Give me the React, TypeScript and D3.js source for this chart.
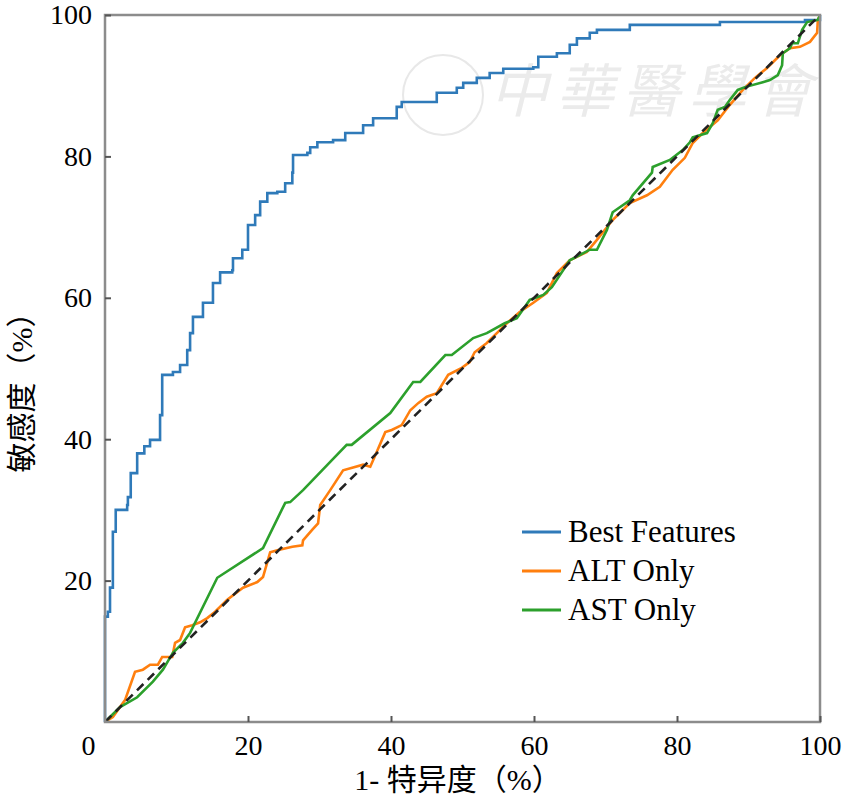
import * as React from "react";
import * as d3 from "d3";

// ROC points as [1 - specificity %, sensitivity %]
const bestFeatures: [number, number][] = [
  [0, 0], [0, 14.9], [0.4, 15.6], [0.7, 19.0], [1.1, 26.9], [1.5, 30.0],
  [3.1, 30.7], [3.2, 31.8], [3.6, 35.2], [4.5, 38.0], [5.5, 39.0], [6.3, 39.9],
  [7.7, 43.4], [8.0, 49.1], [9.5, 49.5], [10.5, 50.5], [11.5, 52.6], [11.9, 55.0],
  [12.3, 57.3], [13.7, 59.3], [15.1, 62.1], [16.1, 63.6], [17.8, 63.9], [17.9, 65.6],
  [19.2, 66.8], [20.0, 70.3], [21.0, 71.7], [21.7, 73.6], [22.7, 74.8], [24.1, 75.0],
  [25.2, 76.2], [26.2, 77.7], [26.3, 80.2], [28.3, 80.5], [28.7, 81.3], [29.7, 82.0],
  [31.9, 82.3], [33.6, 83.3], [36.1, 84.4], [37.5, 85.4], [40.1, 85.4], [40.8, 87.0],
  [41.5, 87.7], [43.1, 87.7], [46.4, 89.0], [49.2, 89.7], [50.1, 90.4], [52.0, 91.1],
  [53.8, 91.8], [55.7, 92.4], [59.9, 92.6], [60.6, 94.1], [63.2, 94.6], [65.0, 95.8],
  [66.0, 96.7], [67.8, 97.5], [68.8, 97.9], [73.4, 98.6], [86.0, 99.0], [97.9, 99.3],
  [100, 100],
];

const altOnly: [number, number][] = [
  [0, 0], [1.1, 0.7], [2.8, 3.1], [4.2, 7.1], [5.3, 7.4], [6.3, 8.1], [7.4, 8.1],
  [8.0, 9.2], [9.4, 9.2], [9.8, 11.2], [10.5, 11.6], [11.2, 13.4], [12.2, 13.7],
  [13.3, 14.1], [14.3, 14.7], [15.4, 15.6], [17.1, 17.3], [19.3, 19.0], [21.3, 19.8],
  [22.1, 20.5], [23.1, 24.0], [24.1, 24.3], [26.2, 24.8], [27.6, 25.0], [27.7, 25.7],
  [29.0, 27.2], [29.8, 28.1], [30.1, 30.7], [31.5, 32.8], [33.3, 35.6], [36.1, 36.4],
  [37.1, 36.1], [38.0, 38.2], [39.2, 41.0], [40.1, 41.3], [41.5, 42.0], [42.7, 44.1],
  [43.8, 45.1], [45.0, 46.0], [46.4, 46.5], [48.0, 49.1], [49.9, 50.1], [51.0, 50.9],
  [51.7, 52.3], [53.4, 53.6], [54.8, 55.0], [56.2, 56.4], [58.0, 58.0], [59.9, 59.3],
  [61.8, 60.7], [63.2, 63.5], [65.0, 65.3], [67.4, 66.5], [68.8, 68.2], [71.0, 71.0],
  [73.4, 73.4], [75.8, 74.5], [77.6, 75.7], [79.4, 78.1], [81.1, 79.8], [82.2, 81.9],
  [83.6, 83.3], [85.7, 85.1], [87.4, 87.3], [89.2, 89.4], [90.9, 91.1], [92.6, 92.5],
  [94.4, 94.3], [95.8, 95.3], [97.2, 95.5], [98.6, 96.2], [99.6, 97.5], [99.7, 99.3],
  [100, 100],
];

const astOnly: [number, number][] = [
  [0, 0], [2.1, 2.1], [4.5, 3.5], [6.7, 5.7], [8.1, 7.4], [9.5, 9.8], [10.9, 11.2],
  [11.9, 12.6], [15.7, 20.4], [22.1, 24.6], [25.2, 31.0], [25.9, 31.1], [27.7, 32.8],
  [31.5, 36.8], [33.8, 39.2], [34.5, 39.2], [39.9, 43.7], [43.1, 48.1], [44.1, 48.1],
  [47.6, 51.9], [48.5, 51.9], [51.5, 54.3], [53.4, 55.0], [55.9, 56.4], [57.6, 57.1],
  [59.4, 59.7], [61.3, 60.4], [62.5, 61.5], [65.0, 65.3], [67.8, 66.8], [68.8, 66.8],
  [70.2, 69.6], [71.0, 72.1], [73.4, 73.8], [73.8, 74.5], [76.5, 77.7], [76.6, 78.5],
  [79.0, 79.5], [80.8, 80.9], [81.8, 82.0], [82.2, 82.7], [84.2, 83.3], [85.0, 84.7],
  [85.7, 86.6], [86.7, 87.0], [87.4, 88.0], [88.5, 89.4], [89.5, 89.8], [92.0, 90.5],
  [93.0, 90.8], [94.1, 91.5], [94.7, 92.9], [94.8, 94.6], [95.8, 95.3], [96.1, 96.0],
  [96.9, 96.0], [97.5, 97.9], [98.2, 99.0], [99.7, 99.3], [100, 100],
];

const chanceLine: [number, number][] = [[0, 0], [100, 100]];

const seriesNames = ["Best Features", "ALT Only", "AST Only"];
const seriesColors = ["#2f7ab9", "#ff7f0e", "#2ca02c"];
const xTicks = [0, 20, 40, 60, 80, 100];
const yTicks = [20, 40, 60, 80, 100];
const xLabel = "1- 特异度（%）";
const yLabel = "敏感度（%）";

const serif = "'Liberation Serif', 'Times New Roman', serif";
const cjk = "'Liberation Serif', 'Noto Sans CJK SC', serif";

export default function App() {
  const ref = React.useRef<SVGSVGElement>(null);

  React.useEffect(() => {
    if (!ref.current) return;
    const svg = d3.select(ref.current);
    svg.selectAll("*").remove();

    const x = d3.scaleLinear().domain([0, 100]).range([105, 820]);
    const y = d3.scaleLinear().domain([0, 100]).range([722, 15]);

    // faint watermark
    svg
      .append("text")
      .attr("x", 655)
      .attr("y", 112)
      .attr("text-anchor", "middle")
      .style("font-family", "'Noto Sans CJK TC', sans-serif")
      .style("font-size", "58px")
      .style("font-style", "italic")
      .attr("fill", "#ebebeb")
      .attr("letter-spacing", 8)
      .text("中華醫學會");
    svg
      .append("circle")
      .attr("cx", 443)
      .attr("cy", 95)
      .attr("r", 40)
      .attr("fill", "none")
      .attr("stroke", "#e8e8e8")
      .attr("stroke-width", 2);

    const lineStep = d3
      .line<[number, number]>()
      .x(d => x(d[0]))
      .y(d => y(d[1]))
      .curve(d3.curveStepAfter);
    const lineLin = d3
      .line<[number, number]>()
      .x(d => x(d[0]))
      .y(d => y(d[1]));

    const plot = svg.append("g").attr("fill", "none").attr("stroke-width", 2.6);
    plot.append("path").attr("d", lineStep(bestFeatures)).attr("stroke", seriesColors[0]);
    plot.append("path").attr("d", lineLin(altOnly)).attr("stroke", seriesColors[1]);
    plot.append("path").attr("d", lineLin(astOnly)).attr("stroke", seriesColors[2]);
    plot
      .append("path")
      .attr("d", lineLin(chanceLine))
      .attr("stroke", "#222")
      .attr("stroke-dasharray", "9,6");

    // frame
    svg
      .append("rect")
      .attr("x", x(0))
      .attr("y", y(100))
      .attr("width", x(100) - x(0))
      .attr("height", y(0) - y(100))
      .attr("fill", "none")
      .attr("stroke", "#8c8c8c")
      .attr("stroke-width", 2.5);

    const xAxis = svg
      .append("g")
      .attr("transform", `translate(0,${y(0)})`)
      .call(d3.axisBottom(x).tickValues(xTicks).tickSize(-6).tickPadding(13).tickFormat(d3.format("d")));
    const yAxis = svg
      .append("g")
      .attr("transform", `translate(${x(0)},0)`)
      .call(d3.axisLeft(y).tickValues(yTicks).tickSize(-6).tickPadding(13).tickFormat(d3.format("d")));

    [xAxis, yAxis].forEach(a => {
      a.select(".domain").remove();
      a.selectAll("line").attr("stroke", "#555").attr("stroke-width", 2);
      a.selectAll("text")
        .attr("fill", "#000")
        .style("font-family", serif)
        .style("font-size", "28px");
    });
    const zeroTick = xAxis.selectAll<SVGGElement, number>(".tick").filter(d => d === 0);
    zeroTick.select("text").attr("dx", -17);
    zeroTick.select("line").remove();

    svg
      .append("text")
      .attr("x", 458)
      .attr("y", 790)
      .attr("text-anchor", "middle")
      .style("font-family", cjk)
      .style("font-size", "30px")
      .text(xLabel);

    svg
      .append("text")
      .attr("transform", `translate(32,385) rotate(-90)`)
      .attr("text-anchor", "middle")
      .style("font-family", cjk)
      .style("font-size", "30px")
      .text(yLabel);

    // legend
    const legend = svg
      .append("g")
      .selectAll("g")
      .data(seriesNames)
      .enter()
      .append("g")
      .attr("transform", (d, i) => `translate(522,${532 + i * 39})`);
    legend
      .append("line")
      .attr("x1", 0)
      .attr("x2", 39)
      .attr("stroke", (d, i) => seriesColors[i])
      .attr("stroke-width", 2.8);
    legend
      .append("text")
      .attr("x", 46)
      .attr("y", 10)
      .style("font-family", serif)
      .style("font-size", "31px")
      .text(d => d);
  }, []);

  return (
    <svg
      ref={ref}
      width={853}
      height={798}
      style={{ position: "absolute", left: 0, top: 0, background: "#fff" }}
    />
  );
}
